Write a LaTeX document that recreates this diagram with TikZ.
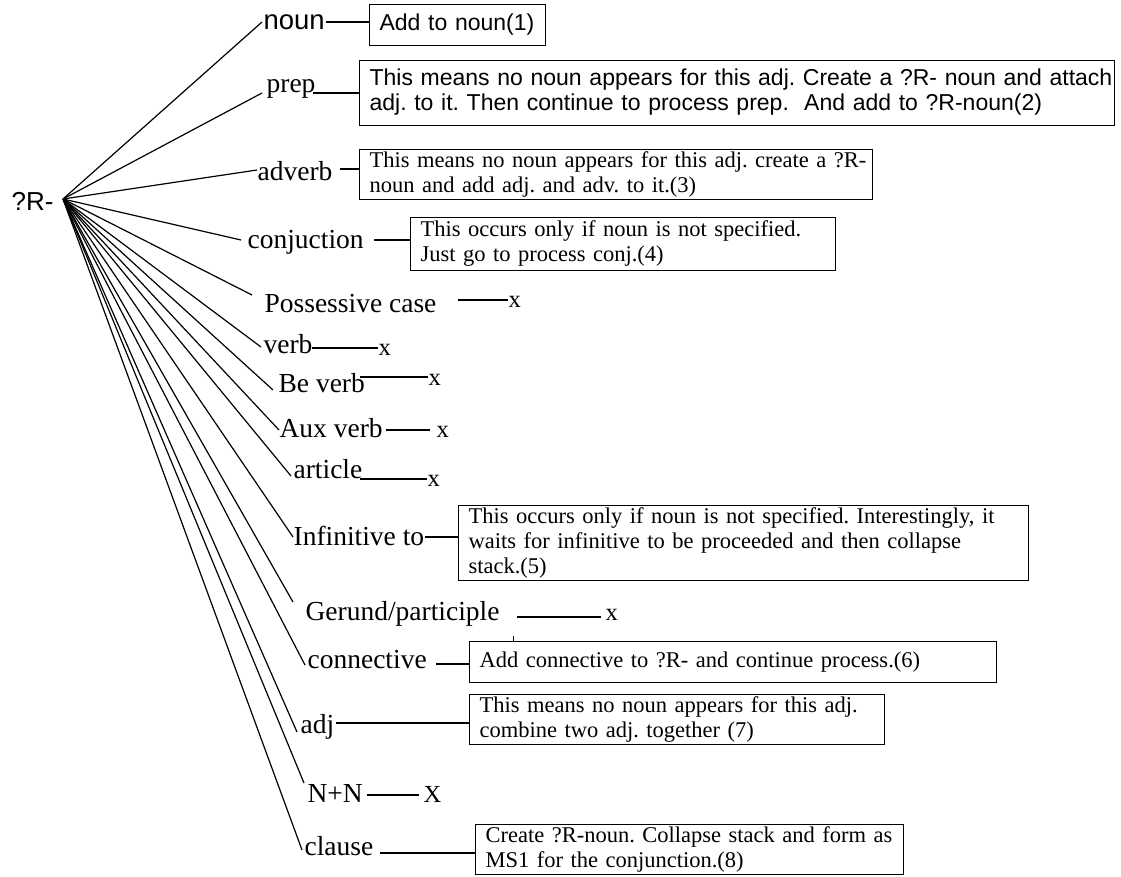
\documentclass[tikz,border=0pt]{standalone}
\usepackage{fontspec}
\setmainfont{Liberation Serif}
\newfontfamily\arialfont{Liberation Sans}
\begin{document}
\frenchspacing
\begin{tikzpicture}[x=1pt,y=-1pt,line width=1.2pt,
  lab/.style={inner sep=0pt,anchor=base west,font=\fontsize{27.5}{30}\selectfont},
  slab/.style={inner sep=0pt,anchor=base west,font=\arialfont\fontsize{27.5}{30}\selectfont},
  xmark/.style={inner sep=0pt,anchor=base west,font=\fontsize{24.5}{26}\selectfont},
  box/.style={draw,line width=1.2pt,anchor=north west,inner xsep=10pt,inner ysep=0pt,align=left,font=\fontsize{22.5}{25}\selectfont},
  sbox/.style={box,font=\arialfont\fontsize{23}{25}\selectfont},
  conn/.style={line width=1.2pt}]
\useasboundingbox (0,0) rectangle (1121,876);

% hub
\node[inner sep=0pt,anchor=base west,font=\arialfont\fontsize{26}{28}\selectfont] (R) at (11,210) {?R-};
\coordinate (hub) at (63,199);

% labels
\node[slab] (noun) at (263,29) {noun};
\node[lab] (prep) at (266,92) {prep};
\node[lab] (adverb) at (257,180) {adverb};
\node[lab] (conj) at (247,248) {conjuction};
\node[lab] (poss) at (264,312) {Possessive case};
\node[lab] (verb) at (263,353) {verb};
\node[lab] (bev) at (278,392) {Be verb};
\node[lab] (aux) at (279,437) {Aux verb};
\node[lab] (art) at (293,478) {article};
\node[lab] (inf) at (293,545) {Infinitive to};
\node[lab] (ger) at (305,620) {Gerund/participle};
\node[lab] (con) at (307,668) {connective};
\node[lab] (adj) at (300,733) {adj};
\node[lab] (nn) at (307,802) {N+N};
\node[lab] (cl) at (304,855) {clause};

% line end points near labels
\coordinate (e1) at (262,22);
\coordinate (e2) at (262,93);
\coordinate (e3) at (257,170);
\coordinate (e4) at (241,240);
\coordinate (e5) at (252,295);
\coordinate (e6) at (261,347);
\coordinate (e7) at (273,390);
\coordinate (e8) at (279,430);
\coordinate (e9) at (291,476);
\coordinate (e10) at (293,537);
\coordinate (e11) at (293,602);
\coordinate (e12) at (305,665);
\coordinate (e13) at (297,732);
\coordinate (e14) at (304,783);
\coordinate (e15) at (302,850);
\foreach \i in {1,...,15} {\draw[conn] (hub) -- (e\i);}

% boxes
\node[sbox,text width=156pt,minimum height=41pt] (b1) at (369,4) {\strut Add to noun(1)\strut};
\node[sbox,text width=735pt,minimum height=65pt] (b2) at (359,60) {\strut\mbox{This means no noun appears for this adj. Create a ?R- noun and attach}\\\mbox{adj. to it. Then continue to process prep.\ \ And add to ?R-noun(2)}\strut};
\node[box,text width=493pt,minimum height=49pt] (b3) at (359,149) {\strut\mbox{This means no noun appears for this adj. create a ?R-}\\\mbox{noun and add adj. and adv. to it.(3)}\strut};
\node[box,text width=405pt,minimum height=53pt] (b4) at (410,217) {\strut\mbox{This occurs only if noun is not specified.}\\\mbox{Just go to process conj.(4)}\strut};
\node[box,text width=550pt,minimum height=73pt] (b5) at (458,505) {\strut\mbox{This occurs only if noun is not specified. Interestingly, it}\\\mbox{waits for infinitive to be proceeded and then collapse}\\\mbox{stack.(5)}\strut};
\node[box,text width=507pt,minimum height=41pt] (b6) at (469,641) {\strut\mbox{Add connective to ?R- and continue process.(6)}\strut};
\node[box,text width=395pt,minimum height=48pt] (b7) at (469,694) {\strut\mbox{This means no noun appears for this adj.}\\\mbox{combine two adj. together (7)}\strut};
\node[box,text width=408pt,minimum height=50pt] (b8) at (475,824) {\strut\mbox{Create ?R-noun. Collapse stack and form as}\\\mbox{MS1 for the conjunction.(8)}\strut};

% x marks
\node[xmark] (x5) at (508,307) {x};
\node[xmark] (x6) at (378,355) {x};
\node[xmark] (x7) at (428,385) {x};
\node[xmark] (x8) at (436,437) {x};
\node[xmark] (x9) at (427,486) {x};
\node[xmark] (x11) at (605,620) {x};
\node[xmark] (x14) at (423,802) {X};

% connectors to boxes
\coordinate (c1) at (326,22);
\coordinate (c2) at (313,93);
\coordinate (c3) at (340,169);
\coordinate (c4) at (374,240);
\coordinate (c10) at (425,537);
\coordinate (c12) at (436,664);
\coordinate (c13) at (336,723);
\coordinate (c15) at (380,853);
\draw[conn] (c1) -- (c1 -| b1.west);
\draw[conn] (c2) -- (c2 -| b2.west);
\draw[conn] (c3) -- (c3 -| b3.west);
\draw[conn] (c4) -- (c4 -| b4.west);
\draw[conn] (c10) -- (c10 -| b5.west);
\draw[conn] (c12) -- (c12 -| b6.west);
\draw[conn] (c13) -- (c13 -| b7.west);
\draw[conn] (c15) -- (c15 -| b8.west);

% connectors to x marks
\coordinate (c5) at (458,300);
\coordinate (c6) at (312,348);
\coordinate (c7) at (360,377);
\coordinate (c8) at (386,430);
\coordinate (c9) at (360,479);
\coordinate (c11) at (517,617);
\coordinate (c14) at (367,795);
\draw[conn] (c5) -- (c5 -| x5.west);
\draw[conn] (c6) -- (c6 -| x6.west);
\draw[conn] (c7) -- (c7 -| x7.west);
\draw[conn] (c8) -- ([xshift=-6pt]c8 -| x8.west);
\draw[conn] (c9) -- (c9 -| x9.west);
\draw[conn] (c11) -- ([xshift=-4pt]c11 -| x11.west);
\draw[conn] (c14) -- ([xshift=-4pt]c14 -| x14.west);

% small stray tick
\coordinate (t1) at (513,636);
\coordinate (t2) at (513,641);
\draw[line width=0.5pt] (t1) -- (t2);
\end{tikzpicture}
\end{document}
